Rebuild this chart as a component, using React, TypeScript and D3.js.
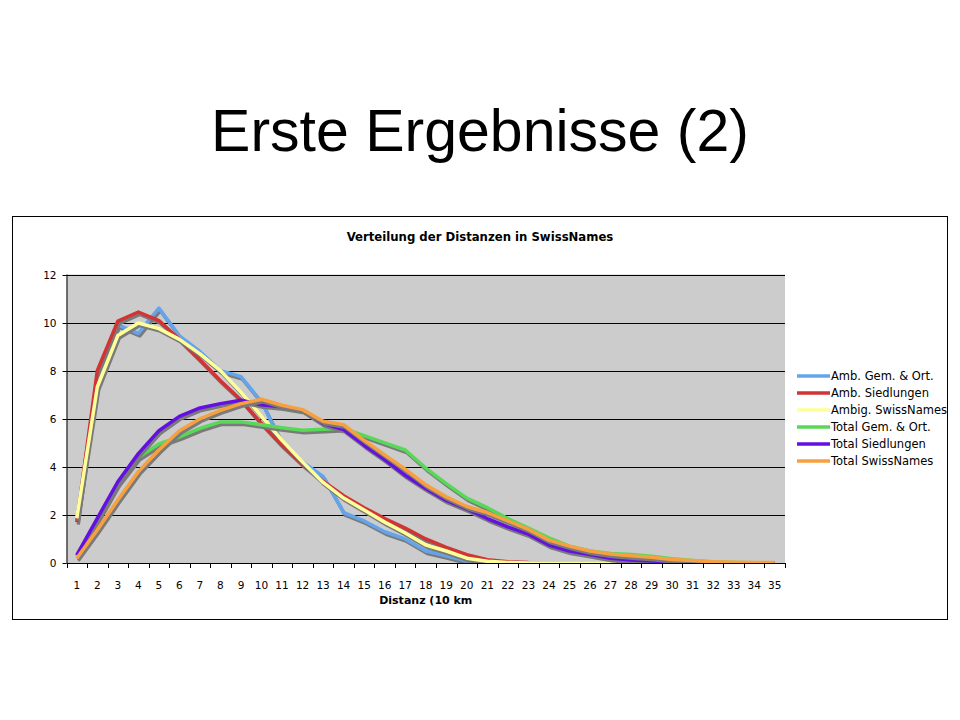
import React from "react";
import * as d3 from "d3";

const categories: number[] = d3.range(1, 36);
const yTicks: number[] = [0, 2, 4, 6, 8, 10, 12];

const ambGemOrt: number[] = [1.8, 7.7, 9.9, 9.55, 10.6, 9.45, 8.8, 8.0, 7.75, 6.7, 5.0, 4.2, 3.6, 2.1, 1.75, 1.3, 1.0, 0.5, 0.3, 0.08, 0, 0, 0, 0, 0, 0, 0, 0, 0, 0, 0, 0, 0, 0, 0];
const ambSiedlungen: number[] = [1.7, 8.0, 10.06, 10.44, 10.08, 9.3, 8.45, 7.58, 6.78, 5.8, 4.9, 4.1, 3.4, 2.8, 2.3, 1.85, 1.45, 1.0, 0.65, 0.35, 0.14, 0.05, 0.02, 0.01, 0, 0, 0, 0, 0, 0, 0, 0, 0, 0, 0];
const ambigSwissNames: number[] = [1.86, 7.32, 9.46, 9.98, 9.75, 9.3, 8.7, 8.0, 7.1, 6.1, 5.1, 4.2, 3.35, 2.7, 2.2, 1.7, 1.25, 0.75, 0.5, 0.2, 0.07, 0.02, 0, 0, 0, 0, 0, 0, 0, 0, 0, 0, 0, 0, 0];
const totalGemOrt: number[] = [0.3, 1.8, 3.3, 4.4, 4.95, 5.25, 5.6, 5.87, 5.87, 5.75, 5.63, 5.52, 5.56, 5.6, 5.3, 5.0, 4.7, 3.95, 3.3, 2.7, 2.3, 1.85, 1.45, 1.05, 0.7, 0.5, 0.4, 0.35, 0.28, 0.18, 0.1, 0.04, 0.02, 0.01, 0];
const totalSiedlungen: number[] = [0.33, 1.86, 3.38, 4.55, 5.5, 6.1, 6.45, 6.63, 6.77, 6.58, 6.5, 6.35, 5.8, 5.55, 4.9, 4.3, 3.65, 3.1, 2.6, 2.25, 1.85, 1.5, 1.2, 0.75, 0.5, 0.35, 0.2, 0.12, 0.08, 0.05, 0.03, 0.01, 0, 0, 0];
const totalSwissNames: number[] = [0.2, 1.37, 2.62, 3.8, 4.7, 5.5, 6.0, 6.35, 6.63, 6.81, 6.56, 6.38, 5.9, 5.75, 5.1, 4.5, 3.9, 3.25, 2.75, 2.35, 2.1, 1.75, 1.4, 0.95, 0.7, 0.5, 0.37, 0.3, 0.24, 0.15, 0.1, 0.05, 0.03, 0.02, 0.02];

const seriesNames: string[] = ["Amb. Gem. & Ort.", "Amb. Siedlungen", "Ambig. SwissNames", "Total Gem. & Ort.", "Total Siedlungen", "Total SwissNames"];
const seriesValues: number[][] = [ambGemOrt, ambSiedlungen, ambigSwissNames, totalGemOrt, totalSiedlungen, totalSwissNames];
const seriesColors: string[] = ["#64A4EC", "#D03434", "#FFFF99", "#58D858", "#6410E0", "#F8A040"];

const FONT = "'DejaVu Sans', Verdana, sans-serif";

export default function App() {
  const left = 66.5, right = 785, top = 274.5, bottom = 563;
  const x = d3.scalePoint<number>().domain(categories).range([left, right]).padding(0.5);
  const y = d3.scaleLinear().domain([0, 12]).range([bottom, top]);
  const step = x.step();
  const line = d3.line<number>().x((_, i) => x(categories[i]) as number).y((v) => y(v));

  const legendY0 = 376;
  const legendStep = 17;

  return (
    <svg width={960} height={720} style={{ position: "absolute", left: 0, top: 0 }}>
      <rect x={0} y={0} width={960} height={720} fill="#ffffff" />
      <text x={480} y={151} textAnchor="middle" fontFamily="'Liberation Sans', Arial, sans-serif" fontSize={59} fill="#000">
        Erste Ergebnisse (2)
      </text>
      <rect x={12.5} y={216.5} width={935} height={403} fill="#fff" stroke="#000" strokeWidth={1} />
      <text x={480} y={241} textAnchor="middle" fontFamily={FONT} fontSize={11.7} fontWeight="bold" fill="#000">
        Verteilung der Distanzen in SwissNames
      </text>
      <rect x={left} y={top} width={right - left} height={bottom - top} fill="#CCCCCC" />
      {yTicks.filter((t) => t > 0).map((t) => (
        <line key={"g" + t} x1={left} x2={right} y1={Math.round(y(t)) + 0.5} y2={Math.round(y(t)) + 0.5} stroke="#000" strokeWidth={1} />
      ))}
      <defs>
        <clipPath id="plotclip">
          <rect x={left} y={top - 5} width={right - left + 5} height={bottom - top + 5} />
        </clipPath>
      </defs>
      <g clipPath="url(#plotclip)">
        {seriesValues.map((vals, si) => (
          <g key={"s" + si}>
            <path d={line(vals) || ""} fill="none" stroke="#7A7A7A" strokeWidth={3.5} strokeLinejoin="round" transform="translate(1.5,2.5)" />
            <path d={line(vals) || ""} fill="none" stroke={seriesColors[si]} strokeWidth={3.5} strokeLinejoin="round" />
          </g>
        ))}
      </g>
      <line x1={left + 0.5} x2={left + 0.5} y1={top} y2={bottom} stroke="#000" />
      <line x1={left} x2={right} y1={bottom + 0.5} y2={bottom + 0.5} stroke="#000" />
      {yTicks.map((t) => (
        <g key={"yt" + t}>
          <line x1={left - 4} x2={left} y1={Math.round(y(t)) + 0.5} y2={Math.round(y(t)) + 0.5} stroke="#000" />
          <text x={left - 10} y={y(t) + 4} textAnchor="end" fontFamily={FONT} fontSize={10.5} fill="#000">
            {t}
          </text>
        </g>
      ))}
      {d3.range(0, categories.length + 1).map((k) => (
        <line key={"xt" + k} x1={Math.round(left + k * step) + 0.5} x2={Math.round(left + k * step) + 0.5} y1={bottom} y2={bottom + 5} stroke="#000" />
      ))}
      {categories.map((c) => (
        <text key={"xl" + c} x={x(c) as number} y={589} textAnchor="middle" fontFamily={FONT} fontSize={10.5} fill="#000">
          {c}
        </text>
      ))}
      <text x={(left + right) / 2} y={604} textAnchor="middle" fontFamily={FONT} fontSize={11} fontWeight="bold" fill="#000">
        Distanz (10 km
      </text>
      {seriesNames.map((name, i) => (
        <g key={"lg" + i}>
          <line x1={797} x2={830} y1={legendY0 + i * legendStep} y2={legendY0 + i * legendStep} stroke={seriesColors[i]} strokeWidth={3.5} />
          <text x={831} y={legendY0 + i * legendStep + 4} fontFamily={FONT} fontSize={11.5} fill="#000">
            {name}
          </text>
        </g>
      ))}
    </svg>
  );
}
